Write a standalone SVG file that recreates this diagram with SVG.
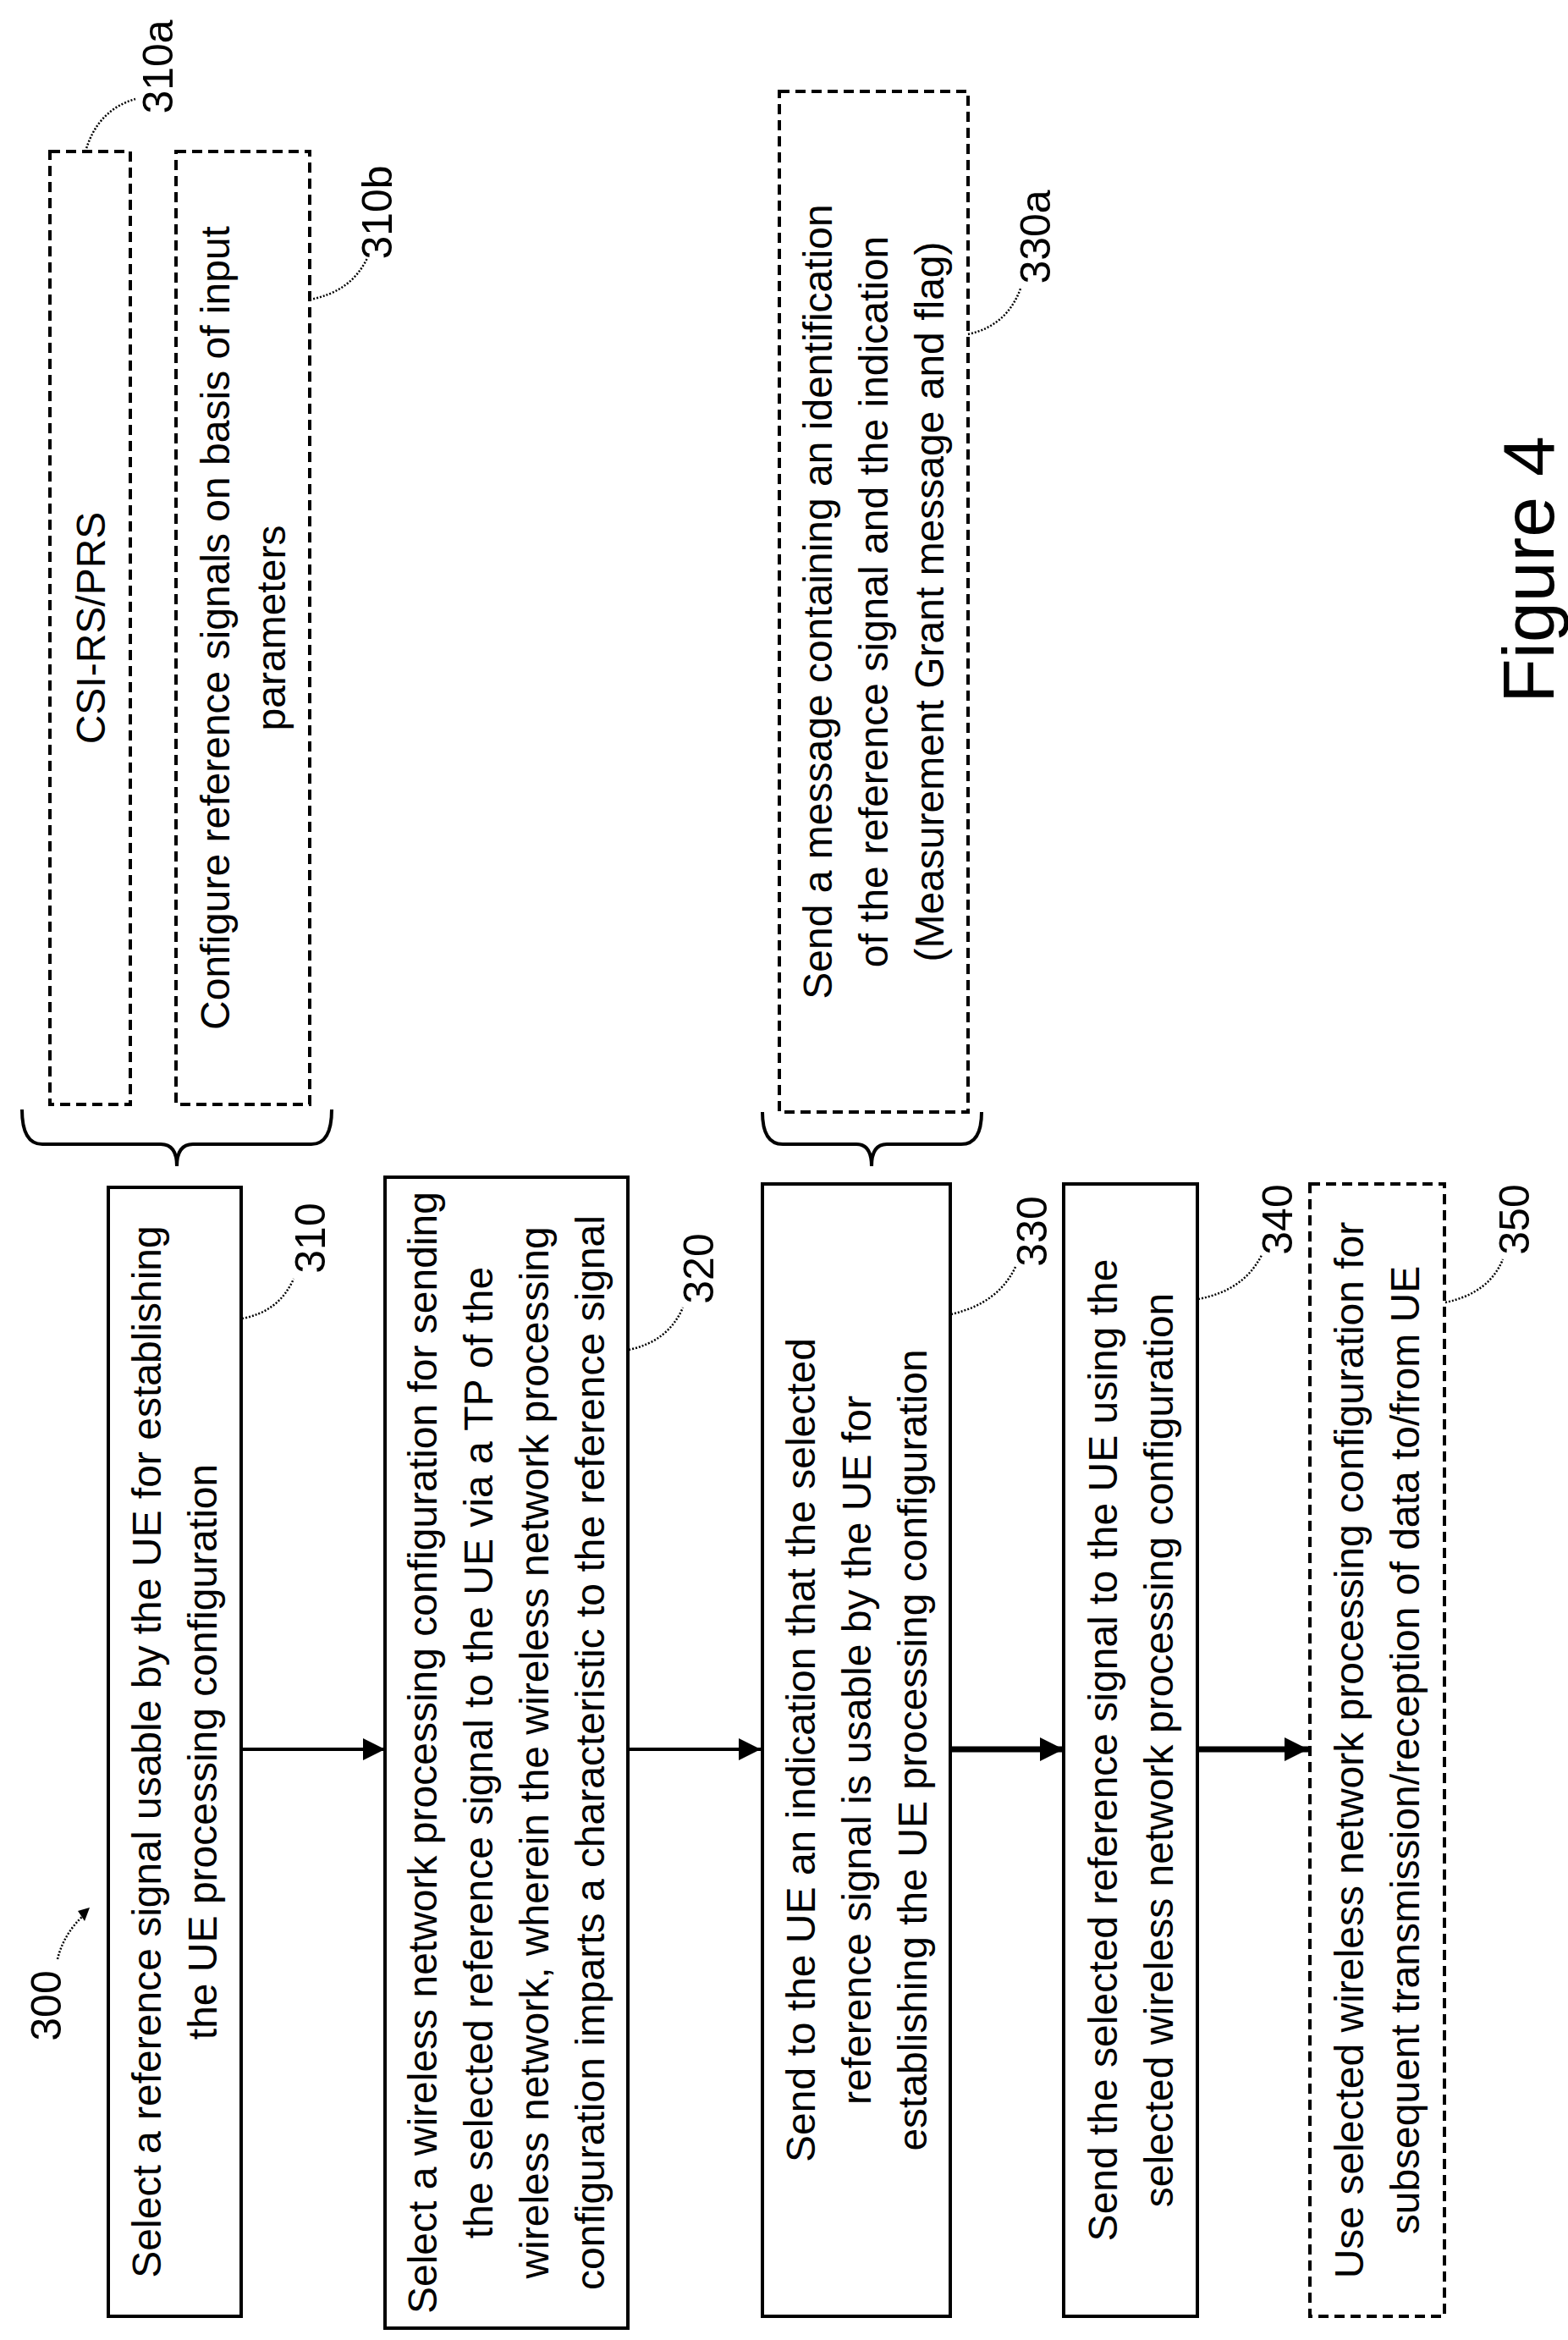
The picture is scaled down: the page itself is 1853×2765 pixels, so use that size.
<svg xmlns="http://www.w3.org/2000/svg" width="1853" height="2765" viewBox="0 0 1853 2765">
<defs>
<marker id="a1" viewBox="0 0 10 10" refX="10" refY="5" markerWidth="26" markerHeight="30" orient="auto" markerUnits="userSpaceOnUse"><path d="M0,0 L10,5 L0,10 z" fill="#000"/></marker>
<marker id="a2" viewBox="0 0 10 10" refX="10" refY="5" markerWidth="28" markerHeight="36" orient="auto" markerUnits="userSpaceOnUse"><path d="M0,0 L10,5 L0,10 z" fill="#000"/></marker>
</defs>
<style>
text{font-family:"Liberation Sans",Arial,sans-serif;fill:#000}
.t{font-size:48px;text-anchor:middle}
.n{font-size:50px;text-anchor:middle}
.box{fill:#fff;stroke:#000;stroke-width:4}
.dbox{fill:#fff;stroke:#000;stroke-width:4;stroke-dasharray:12 7}
.lead{fill:none;stroke:#000;stroke-width:2.5;stroke-dasharray:2 2}
.br{fill:none;stroke:#000;stroke-width:4}
</style>
<rect width="1853" height="2765" fill="#fff"/>
<g id="connectors">
<line x1="286" y1="2067" x2="455" y2="2067" stroke="#000" stroke-width="4" marker-end="url(#a1)"/>
<line x1="742" y1="2067" x2="899" y2="2067" stroke="#000" stroke-width="4" marker-end="url(#a1)"/>
<line x1="1125" y1="2067" x2="1257" y2="2067" stroke="#000" stroke-width="7" marker-end="url(#a2)"/>
<line x1="1416" y1="2067" x2="1546" y2="2067" stroke="#000" stroke-width="7" marker-end="url(#a2)"/>
<path class="br" d="M26,1311 Q26,1352 50,1352 L190,1352 Q209,1352 209,1378 Q209,1352 228,1352 L368,1352 Q392,1352 392,1311"/>
<path class="br" d="M901,1314 Q901,1352 925,1352 L1012,1352 Q1030,1352 1030,1378 Q1030,1352 1048,1352 L1136,1352 Q1160,1352 1160,1314"/>
</g>
<g id="n300">
<text class="n" transform="translate(55,2370) rotate(-90)" y="17">300</text>
<path class="lead" d="M68,2315 Q75,2285 100,2262"/>
<path d="M92,2258 L106,2254 L100,2270 z" fill="#000"/>
</g>
<g id="n310">
<rect class="box" x="128" y="1403" width="157" height="1334"/>
<g transform="translate(206,2070) rotate(-90)"><text class="t" y="-16">Select a reference signal usable by the UE for establishing</text><text class="t" y="50">the UE processing configuration</text></g>
<path class="lead" d="M286,1558 Q330,1550 347,1511"/>
<text class="n" transform="translate(367,1463) rotate(-90)" y="17">310</text>
</g>
<g id="n320">
<rect class="box" x="455" y="1391" width="287" height="1360"/>
<g transform="translate(598,2071) rotate(-90)"><text class="t" y="-82">Select a wireless network processing configuration for sending</text><text class="t" y="-16">the selected reference signal to the UE via a TP of the</text><text class="t" y="50">wireless network, wherein the wireless network processing</text><text class="t" y="116">configuration imparts a characteristic to the reference signal</text></g>
<path class="lead" d="M743,1595 Q790,1585 807,1545"/>
<text class="n" transform="translate(826,1499) rotate(-90)" y="17">320</text>
</g>
<g id="n330">
<rect class="box" x="901" y="1399" width="222" height="1338"/>
<g transform="translate(1012,2068) rotate(-90)"><text class="t" y="-49">Send to the UE an indication that the selected</text><text class="t" y="17">reference signal is usable by the UE for</text><text class="t" y="83">establishing the UE processing configuration</text></g>
<path class="lead" d="M1124,1553 Q1180,1540 1200,1497"/>
<text class="n" transform="translate(1220,1455) rotate(-90)" y="17">330</text>
</g>
<g id="n340">
<rect class="box" x="1257" y="1399" width="158" height="1338"/>
<g transform="translate(1336,2068) rotate(-90)"><text class="t" y="-16">Send the selected reference signal to the UE using the</text><text class="t" y="50">selected wireless network processing configuration</text></g>
<path class="lead" d="M1416,1535 Q1470,1525 1491,1483"/>
<text class="n" transform="translate(1510,1441) rotate(-90)" y="17">340</text>
</g>
<g id="n350">
<rect class="dbox" x="1548" y="1399" width="159" height="1338"/>
<g transform="translate(1627,2068) rotate(-90)"><text class="t" y="-16">Use selected wireless network processing configuration for</text><text class="t" y="50">subsequent transmission/reception of data to/from UE</text></g>
<path class="lead" d="M1708,1539 Q1760,1528 1776,1488"/>
<text class="n" transform="translate(1790,1441) rotate(-90)" y="17">350</text>
</g>
<g id="n310a">
<rect class="dbox" x="59" y="179" width="95" height="1126"/>
<g transform="translate(107,742) rotate(-90)"><text class="t" y="17">CSI-RS/PRS</text></g>
<path class="lead" d="M101,179 Q115,130 160,117"/>
<text class="n" transform="translate(187,79) rotate(-90)" y="17">310a</text>
</g>
<g id="n310b">
<rect class="dbox" x="208" y="179" width="158" height="1126"/>
<g transform="translate(287,742) rotate(-90)"><text class="t" y="-16">Configure reference signals on basis of input</text><text class="t" y="50">parameters</text></g>
<path class="lead" d="M366,354 Q415,345 434,305"/>
<text class="n" transform="translate(446,251) rotate(-90)" y="17">310b</text>
</g>
<g id="n330a">
<rect class="dbox" x="921" y="108" width="223" height="1206"/>
<g transform="translate(1032,711) rotate(-90)"><text class="t" y="-49">Send a message containing an identification</text><text class="t" y="17">of the reference signal and the indication</text><text class="t" y="83">(Measurement Grant message and flag)</text></g>
<path class="lead" d="M1144,395 Q1190,385 1206,341"/>
<text class="n" transform="translate(1224,280) rotate(-90)" y="17">330a</text>
</g>
<g id="fig">
<text transform="translate(1806,673) rotate(-90)" y="30" style="font-size:86px;text-anchor:middle">Figure 4</text>
</g>
</svg>
